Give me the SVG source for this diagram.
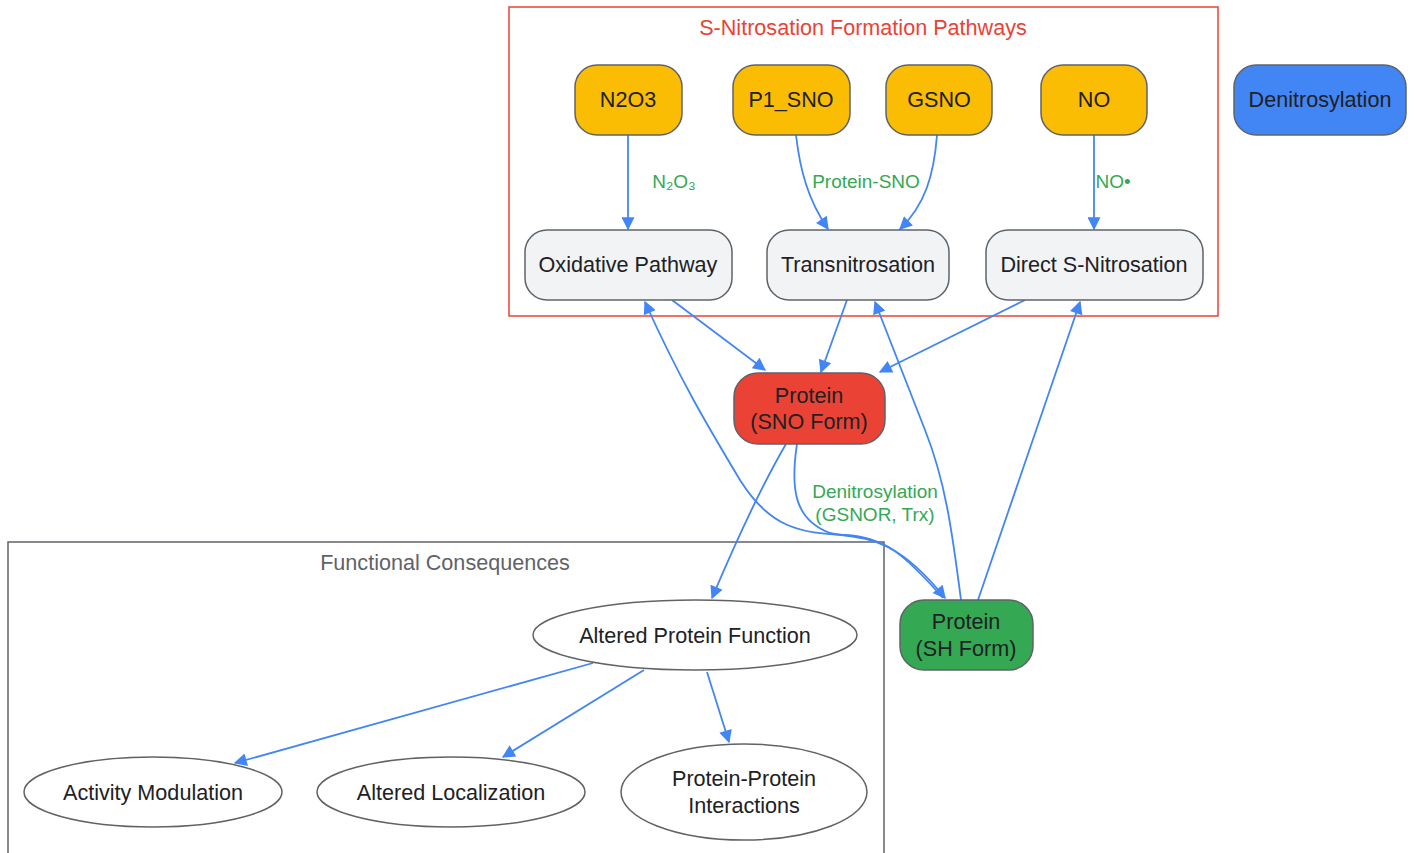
<svg xmlns="http://www.w3.org/2000/svg" width="1415" height="853" viewBox="0 0 1415 853">
<defs>
<marker id="arr" viewBox="0 0 10 10" refX="9" refY="5" markerWidth="18" markerHeight="13" markerUnits="userSpaceOnUse" orient="auto"><path d="M0,0 L10,5 L0,10 z" fill="#4285f4"/></marker>
<style>
.n{stroke:#5f6368;stroke-width:1.5}
.t{font-family:"Liberation Sans",Arial,sans-serif;font-size:21.6px;fill:#202124;text-anchor:middle}
.l{font-family:"Liberation Sans",Arial,sans-serif;font-size:19px;fill:#34a853;text-anchor:middle}
.e{fill:none;stroke:#4285f4;stroke-width:1.8;marker-end:url(#arr)}
</style>
</defs>
<rect width="1415" height="853" fill="#fff"/>
<g id="cluster-formation">
<rect x="509" y="7" width="709" height="309" fill="none" stroke="#ea4335" stroke-width="1.5"/>
<text x="863" y="35" class="t" style="fill:#ea4335">S-Nitrosation Formation Pathways</text>
</g>
<g id="cluster-functional">
<rect x="8" y="542" width="876" height="320" fill="none" stroke="#5f6368" stroke-width="1.5"/>
<text x="445" y="570" class="t" style="fill:#5f6368">Functional Consequences</text>
</g>
<g id="connectors">
<path class="e" d="M628,135 L628,229"/>
<text x="674" y="188" class="l">N₂O₃</text>
<path class="e" d="M796,135 C800,170 808,200 828,229"/>
<path class="e" d="M937,135 C934,175 925,205 900,229"/>
<text x="866" y="188" class="l">Protein-SNO</text>
<path class="e" d="M1094,135 L1094,229"/>
<text x="1113" y="188" class="l">NO•</text>
<path class="e" d="M672,300 L765,370"/>
<path class="e" d="M847,300 L821,372"/>
<path class="e" d="M1025,300 L880,372"/>
<path class="e" d="M797,444 C790,490 795,520 830,533 C860,540 890,530 945,598"/>
<text x="875" y="498" class="l">Denitrosylation</text>
<text x="875" y="521" class="l">(GSNOR, Trx)</text>
<path class="e" d="M943,598 C905,555 885,537 845,535 C800,533 770,528 740,480 C710,430 680,380 645,302"/>
<path class="e" d="M961,600 C952,530 945,480 925,430 L875,302"/>
<path class="e" d="M978,600 L1080,302"/>
<path class="e" d="M786,444 C765,480 745,520 712,598"/>
<path class="e" d="M593,663 L235,763"/>
<path class="e" d="M644,670 L503,757"/>
<path class="e" d="M707,672 L729,742"/>
</g>
<g id="N2O3"><rect class="n" x="575" y="65" width="107" height="70" rx="22" fill="#fbbc04"/><text x="628" y="107" class="t">N2O3</text></g>
<g id="P1_SNO"><rect class="n" x="733" y="65" width="117" height="70" rx="22" fill="#fbbc04"/><text x="791" y="107" class="t">P1_SNO</text></g>
<g id="GSNO"><rect class="n" x="886" y="65" width="106" height="70" rx="22" fill="#fbbc04"/><text x="939" y="107" class="t">GSNO</text></g>
<g id="NO"><rect class="n" x="1041" y="65" width="106" height="70" rx="22" fill="#fbbc04"/><text x="1094" y="107" class="t">NO</text></g>
<g id="Denitrosylation"><rect class="n" x="1234" y="65" width="172" height="70" rx="22" fill="#4285f4"/><text x="1320" y="107" class="t">Denitrosylation</text></g>
<g id="Oxidative"><rect class="n" x="525" y="230" width="207" height="70" rx="22" fill="#f1f3f4"/><text x="628" y="272" class="t">Oxidative Pathway</text></g>
<g id="Transnitrosation"><rect class="n" x="767" y="230" width="182" height="70" rx="22" fill="#f1f3f4"/><text x="858" y="272" class="t">Transnitrosation</text></g>
<g id="Direct"><rect class="n" x="986" y="230" width="217" height="70" rx="22" fill="#f1f3f4"/><text x="1094" y="272" class="t">Direct S-Nitrosation</text></g>
<g id="SNO"><rect class="n" x="734" y="373" width="151" height="71" rx="24" fill="#ea4335"/><text x="809" y="403" class="t">Protein</text><text x="809" y="429" class="t">(SNO Form)</text></g>
<g id="SH"><rect class="n" x="900" y="600" width="133" height="70" rx="24" fill="#34a853"/><text x="966" y="629" class="t">Protein</text><text x="966" y="656" class="t">(SH Form)</text></g>
<g id="APF"><ellipse class="n" cx="695" cy="635" rx="162" ry="35" fill="#fff"/><text x="695" y="643" class="t">Altered Protein Function</text></g>
<g id="Activity"><ellipse class="n" cx="153" cy="792" rx="129" ry="35" fill="#fff"/><text x="153" y="800" class="t">Activity Modulation</text></g>
<g id="Localization"><ellipse class="n" cx="451" cy="792" rx="134" ry="35" fill="#fff"/><text x="451" y="800" class="t">Altered Localization</text></g>
<g id="PPI"><ellipse class="n" cx="744" cy="792" rx="123" ry="48" fill="#fff"/><text x="744" y="786" class="t">Protein-Protein</text><text x="744" y="813" class="t">Interactions</text></g>
</svg>
